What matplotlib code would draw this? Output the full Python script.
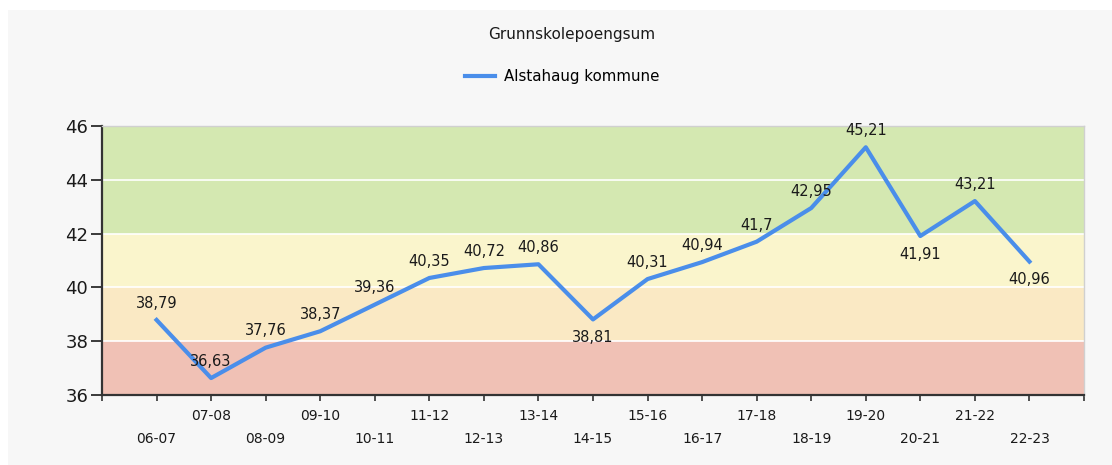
import matplotlib.pyplot as plt
from matplotlib.patches import Rectangle

seasons = ["06-07", "07-08", "08-09", "09-10", "10-11", "11-12", "12-13", "13-14", "14-15",
           "15-16", "16-17", "17-18", "18-19", "19-20", "20-21", "21-22", "22-23"]
values = [38.79, 36.63, 37.76, 38.37, 39.36, 40.35, 40.72, 40.86, 38.81,
          40.31, 40.94, 41.7, 42.95, 45.21, 41.91, 43.21, 40.96]
below = [8, 14, 16]  # labels drawn under the point

bands = [(36, 38, "#f0c1b5"), (38, 40, "#fae9c4"), (40, 42, "#faf5cc"), (42, 46, "#d4e8b1")]

fig = plt.figure(figsize=(11.12, 4.65), dpi=100, facecolor="white")
fig.patches.append(Rectangle((8 / 1112, 0), 1, 1 - 10 / 465, transform=fig.transFigure,
                             facecolor="#f7f7f7", edgecolor="none", zorder=-10))
ax = fig.add_axes([102 / 1112, 1 - 395 / 465, (1084 - 102) / 1112, (395 - 126) / 465])

for lo, hi, col in bands:
    ax.axhspan(lo, hi, color=col, zorder=0, lw=0)
for g in [38, 40, 42, 44]:
    ax.axhline(g, color="white", lw=1.2, zorder=1)

x = list(range(1, len(values) + 1))
line, = ax.plot(x, values, color="#4a8eea", lw=3, zorder=3, label="Alstahaug kommune")

for i, v in enumerate(values):
    dy = -13 if i in below else 12
    ax.annotate(str(v).replace(".", ","), (x[i], v), xytext=(0, dy), textcoords="offset points",
                ha="center", va="center", fontsize=10.5, color="#1a1a1a", zorder=4)

ax.set_xlim(0, 18)
ax.set_ylim(36, 46)
ax.set_yticks([36, 38, 40, 42, 44, 46])
ax.set_xticks(range(0, 19))
ax.set_xticklabels([])
ax.tick_params(axis="y", labelsize=13, length=8, width=1.2, pad=2, colors="#1a1a1a")
ax.tick_params(axis="x", length=4, width=1.2, color="#333333")

for i, lab in enumerate(seasons):
    off = -15 if i % 2 == 1 else -31.5
    ax.annotate(lab, (x[i], 0), xycoords=("data", "axes fraction"), xytext=(0, off),
                textcoords="offset points", ha="center", va="center", fontsize=10, color="#1a1a1a")

for s in ["left", "bottom"]:
    ax.spines[s].set_color("#333333")
    ax.spines[s].set_linewidth(1.6)
for s in ["top", "right"]:
    ax.spines[s].set_color("#d0d0d0")
    ax.spines[s].set_linewidth(1)

fig.text(572 / 1112, 1 - 35 / 465, "Grunnskolepoengsum", ha="center", va="center", fontsize=11, color="#1a1a1a")
fig.legend(handles=[line], loc="center", bbox_to_anchor=(562 / 1112, 1 - 77 / 465), frameon=False,
           fontsize=10.8, handlelength=2.0, handletextpad=0.6)

fig.savefig("out.png", dpi=100, facecolor=fig.get_facecolor())
